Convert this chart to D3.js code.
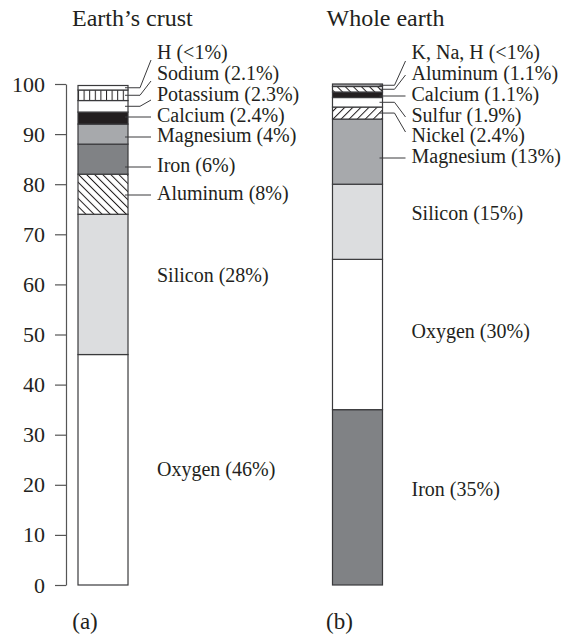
<!DOCTYPE html>
<html>
<head>
<meta charset="utf-8">
<script src="https://cdn.jsdelivr.net/npm/d3@7"></script>
<style>
  html, body { margin: 0; padding: 0; background: #fff; }
  svg { display: block; }
  text { font-family: "Liberation Serif", "Times New Roman", serif; fill: #231f20; }
</style>
</head>
<body>
<svg id="chart" width="566" height="635"></svg>
<script>
// Element abundance by mass (%), listed from the bottom of each column upward
const crustElements = ["Oxygen", "Silicon", "Aluminum", "Iron", "Magnesium", "Calcium", "Potassium", "Sodium", "H"];
const crustPercent  = [46, 28, 8, 6, 4, 2.4, 2.3, 2.1, 0.9];

const wholeElements = ["Iron", "Oxygen", "Silicon", "Magnesium", "Nickel", "Sulfur", "Calcium", "Aluminum", "K, Na, H"];
const wholePercent  = [35, 30, 15, 13, 2.4, 1.9, 1.1, 1.1, 0.5];

const columnTitles  = ["Earth\u2019s crust", "Whole earth"];
const panelCaptions = ["(a)", "(b)"];
const yTicks = [0, 10, 20, 30, 40, 50, 60, 70, 80, 90, 100];

// Segment fills (patterns are defined below)
const crustFills = ["#ffffff", "#dcdddf", "url(#hatchBack)", "#808285", "#a7a9ac", "#231f20", "#ffffff", "url(#vStripes)", "#ffffff"];
const wholeFills = ["#808285", "#ffffff", "#dcdddf", "#a7a9ac", "url(#hatchFwd)", "#ffffff", "#231f20", "url(#hatchBack)", "#a0a1a4"];

// Label layout: text baseline (px) and leader style, per segment
const crustLabelY = [476, 282, 200, 172, 142, 122, 101, 80, 59];
const crustLeader = ["none", "none", "straight", "straight", "straight", "straight", "bent", "bent", "bent"];
const crustLeaderEnd = [0, 0, 0, 0, 0, 0, -1, 1, 1];

const wholeLabelY = [496, 338, 220, 163, 142, 122, 101, 80, 59];
const wholeLeader = ["none", "none", "none", "straight", "bent", "bent", "straight", "bent", "bent"];
const wholeLeaderEnd = [0, 0, 0, 0, -10, -5, 0, -5, 2];

const svg = d3.select("#chart");
const ink = "#3a3a3c";

// ---- hatch patterns ----
const defs = svg.append("defs");
function diagPattern(id, angle) {
  const p = defs.append("pattern")
    .attr("id", id)
    .attr("patternUnits", "userSpaceOnUse")
    .attr("width", 5.7).attr("height", 10)
    .attr("patternTransform", `rotate(${angle})`);
  p.append("rect").attr("width", 5.7).attr("height", 10).attr("fill", "#fff");
  p.append("line").attr("x1", 0.5).attr("x2", 0.5).attr("y1", 0).attr("y2", 10)
    .attr("stroke", "#231f20").attr("stroke-width", 1);
}
diagPattern("hatchBack", -45);
diagPattern("hatchFwd", 45);
const vs = defs.append("pattern")
  .attr("id", "vStripes")
  .attr("patternUnits", "userSpaceOnUse")
  .attr("x", 78).attr("width", 5.6).attr("height", 10);
vs.append("rect").attr("width", 5.6).attr("height", 10).attr("fill", "#fff");
vs.append("line").attr("x1", 0.5).attr("x2", 0.5).attr("y1", 0).attr("y2", 10)
  .attr("stroke", "#231f20").attr("stroke-width", 1);

// ---- scales ----
const y = d3.scaleLinear().domain([0, 100]).range([585, 84]);
const x = d3.scaleBand().domain(["crust", "whole"])
  .range([78, 382.5]).paddingInner(0.8035).paddingOuter(0);

// ---- y axis ----
const axis = svg.append("g")
  .attr("transform", "translate(66,0)")
  .call(d3.axisLeft(y).tickValues(yTicks).tickSize(11).tickSizeOuter(0).tickPadding(10));
axis.select(".domain").attr("stroke", "#555").attr("stroke-width", 1.2);
axis.selectAll(".tick line").attr("stroke", "#555").attr("stroke-width", 1.2);
axis.selectAll(".tick text")
  .attr("font-family", "'Liberation Serif', 'Times New Roman', serif")
  .attr("font-size", 22).attr("fill", "#231f20");

// ---- columns ----
const columns = [
  { key: "crust", names: crustElements, values: crustPercent, fills: crustFills,
    labelY: crustLabelY, leader: crustLeader, leaderEnd: crustLeaderEnd },
  { key: "whole", names: wholeElements, values: wholePercent, fills: wholeFills,
    labelY: wholeLabelY, leader: wholeLeader, leaderEnd: wholeLeaderEnd }
];

function fmtLabel(name, v) {
  return `${name} (${v < 1 ? "<1" : v}%)`;
}

columns.forEach((col, ci) => {
  const x0 = x(col.key), bw = x.bandwidth(), xr = x0 + bw;
  const tops = d3.cumsum(col.values);
  const segs = col.values.map((v, i) => ({
    name: col.names[i], value: v, lo: tops[i] - v, hi: tops[i],
    fill: col.fills[i], labelY: col.labelY[i], leader: col.leader[i], endDy: col.leaderEnd[i]
  }));

  const g = svg.append("g");

  g.selectAll("rect.seg").data(segs).join("rect")
    .attr("class", "seg")
    .attr("x", x0).attr("width", bw)
    .attr("y", d => y(d.hi)).attr("height", d => y(d.lo) - y(d.hi))
    .attr("fill", d => d.fill)
    .attr("stroke", ink).attr("stroke-width", 1.2);

  const textX = xr + 29;

  // leader lines
  g.selectAll("path.leader").data(segs.filter(d => d.leader !== "none")).join("path")
    .attr("class", "leader")
    .attr("fill", "none").attr("stroke", ink).attr("stroke-width", 1)
    .attr("d", d => {
      if (d.leader === "straight") {
        const ly = d.labelY - 5;
        return `M${xr - 3},${ly}H${textX - 6}`;
      }
      const sy = (y(d.lo) + y(d.hi)) / 2;
      return `M${xr - 3},${sy}H${xr + 12}L${textX - 6},${d.labelY + d.endDy}`;
    });

  // labels
  g.selectAll("text.lab").data(segs).join("text")
    .attr("class", "lab")
    .attr("x", textX).attr("y", d => d.labelY)
    .attr("font-size", 20)
    .text(d => fmtLabel(d.name, d.value));

  // column title and caption
  svg.append("text")
    .attr("x", x0 - 6).attr("y", 26)
    .attr("font-size", 24)
    .text(columnTitles[ci]);
  svg.append("text")
    .attr("x", x0 + 7).attr("y", 629)
    .attr("text-anchor", "middle")
    .attr("font-size", 23)
    .text(panelCaptions[ci]);
});
</script>
</body>
</html>
